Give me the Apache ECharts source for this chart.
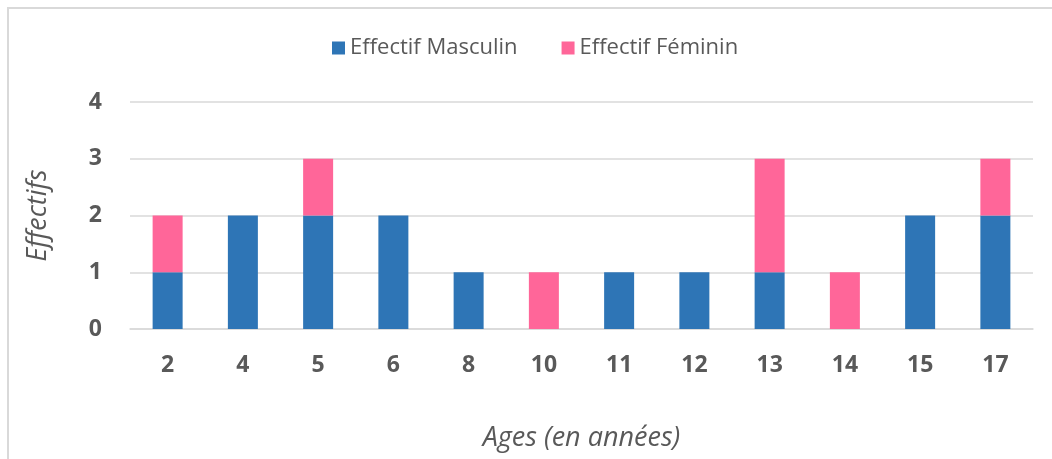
<!DOCTYPE html>
<html>
<head>
<meta charset="utf-8">
<script src="https://cdn.jsdelivr.net/npm/echarts@6/dist/echarts.min.js"></script>
<style>
  html, body { margin: 0; padding: 0; background: #fff; }
  #frame { position: absolute; left: 7px; top: 7px; width: 1200px; height: 600px;
           border-top: 2px solid #d9d9d9; border-left: 2px solid #d9d9d9; }
  #chart { position: absolute; left: 0; top: 0; width: 1052px; height: 459px; }
</style>
</head>
<body>
<div id="frame"></div>
<div id="chart"></div>
<script>
  // données
  const ages = ['2', '4', '5', '6', '8', '10', '11', '12', '13', '14', '15', '17']
  const masculin = [1, 2, 2, 2, 1, 0, 1, 1, 1, 0, 2, 2]
  const feminin = [1, 0, 1, 0, 0, 1, 0, 0, 2, 1, 0, 1]
  const yTicks = [0, 1, 2, 3, 4]

  const font = '"Open Sans", "Noto Sans", sans-serif'
  const grey = '#595959'

  const chart = echarts.init(document.getElementById('chart'))

  chart.setOption({
    animation: false,
    textStyle: { fontFamily: font },
    legend: {
      top: 32,
      left: 327,
      itemWidth: 13,
      itemHeight: 13,
      itemGap: 44,
      icon: 'rect',
      textStyle: { color: grey, fontSize: 22, fontFamily: font },
      data: ['Effectif Masculin', 'Effectif Féminin'],
    },
    grid: { left: 130, right: 19, top: 102, bottom: 130 },
    xAxis: {
      type: 'category',
      data: ages,
      name: 'Ages (en années)',
      nameLocation: 'middle',
      nameGap: 96,
      nameTextStyle: { color: grey, fontSize: 27, fontStyle: 'italic', fontFamily: font },
      axisLine: { lineStyle: { color: '#d9d9d9', width: 1.5 } },
      axisTick: { show: false },
      axisLabel: { color: grey, fontSize: 23, fontWeight: 'bold', margin: 25, fontFamily: font },
    },
    yAxis: {
      type: 'value',
      min: yTicks[0],
      max: yTicks[yTicks.length - 1],
      interval: 1,
      name: 'Effectifs',
      nameLocation: 'middle',
      nameGap: 78,
      nameRotate: 90,
      nameTextStyle: { color: grey, fontSize: 27, fontStyle: 'italic', fontFamily: font },
      axisLine: { show: false },
      axisTick: { show: false },
      axisLabel: { color: grey, fontSize: 23, fontWeight: 'bold', margin: 28, fontFamily: font },
      splitLine: { lineStyle: { color: '#d9d9d9', width: 1.5 } },
    },
    series: [
      {
        name: 'Effectif Masculin',
        type: 'bar',
        stack: 'total',
        data: masculin,
        barWidth: 30,
        itemStyle: { color: '#2e75b6' },
      },
      {
        name: 'Effectif Féminin',
        type: 'bar',
        stack: 'total',
        data: feminin,
        barWidth: 30,
        itemStyle: { color: '#ff6699' },
      },
    ],
  })
</script>
</body>
</html>
